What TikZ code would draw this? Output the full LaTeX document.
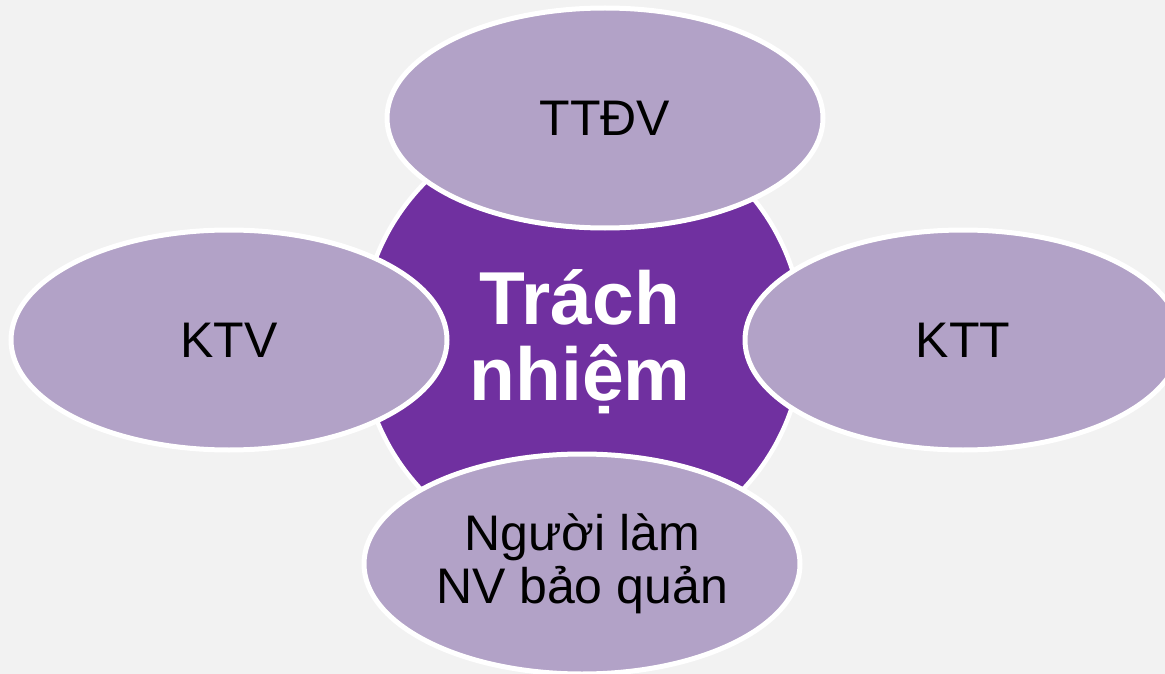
\documentclass[tikz,border=0pt]{standalone}
\usepackage{fontspec}
\setmainfont{Liberation Sans}
\usetikzlibrary{shapes.geometric}
\definecolor{bgGray}{HTML}{F2F2F2}
\definecolor{coreViolet}{HTML}{7030A0}
\definecolor{petalLilac}{HTML}{B2A2C7}
\tikzset{
  core/.style={circle, fill=coreViolet, draw=white, line width=4.5pt,
    minimum size=442pt, inner sep=0pt},
  corelabel/.style={text=white, align=center,
    font=\bfseries\fontsize{75}{76}\selectfont},
  petal/.style={ellipse, fill=petalLilac, draw=white, line width=5pt,
    minimum width=436pt, minimum height=220pt, inner sep=0pt, text=black,
    align=center, font=\fontsize{50}{53}\selectfont}
}
\begin{document}
\begin{tikzpicture}[x=1pt, y=-1pt]
  \fill[bgGray] (0,0) rectangle (1165,674);
  \useasboundingbox (0,0) rectangle (1165,674);
  % central circle with its label
  \node[core] (hub) at (582,338) {};
  \node[corelabel] (hubtext) at (580,342) {Trách\\nhiệm};
  % surrounding ellipses
  \node[petal] (top) at (605,118) {TTĐV};
  \node[petal] (left) at (229,340) {KTV};
  \node[petal] (right) at (963,340) {KTT};
  \node[petal] (bottom) at (582,564) {Người làm\\NV bảo quản};
\end{tikzpicture}
\end{document}
